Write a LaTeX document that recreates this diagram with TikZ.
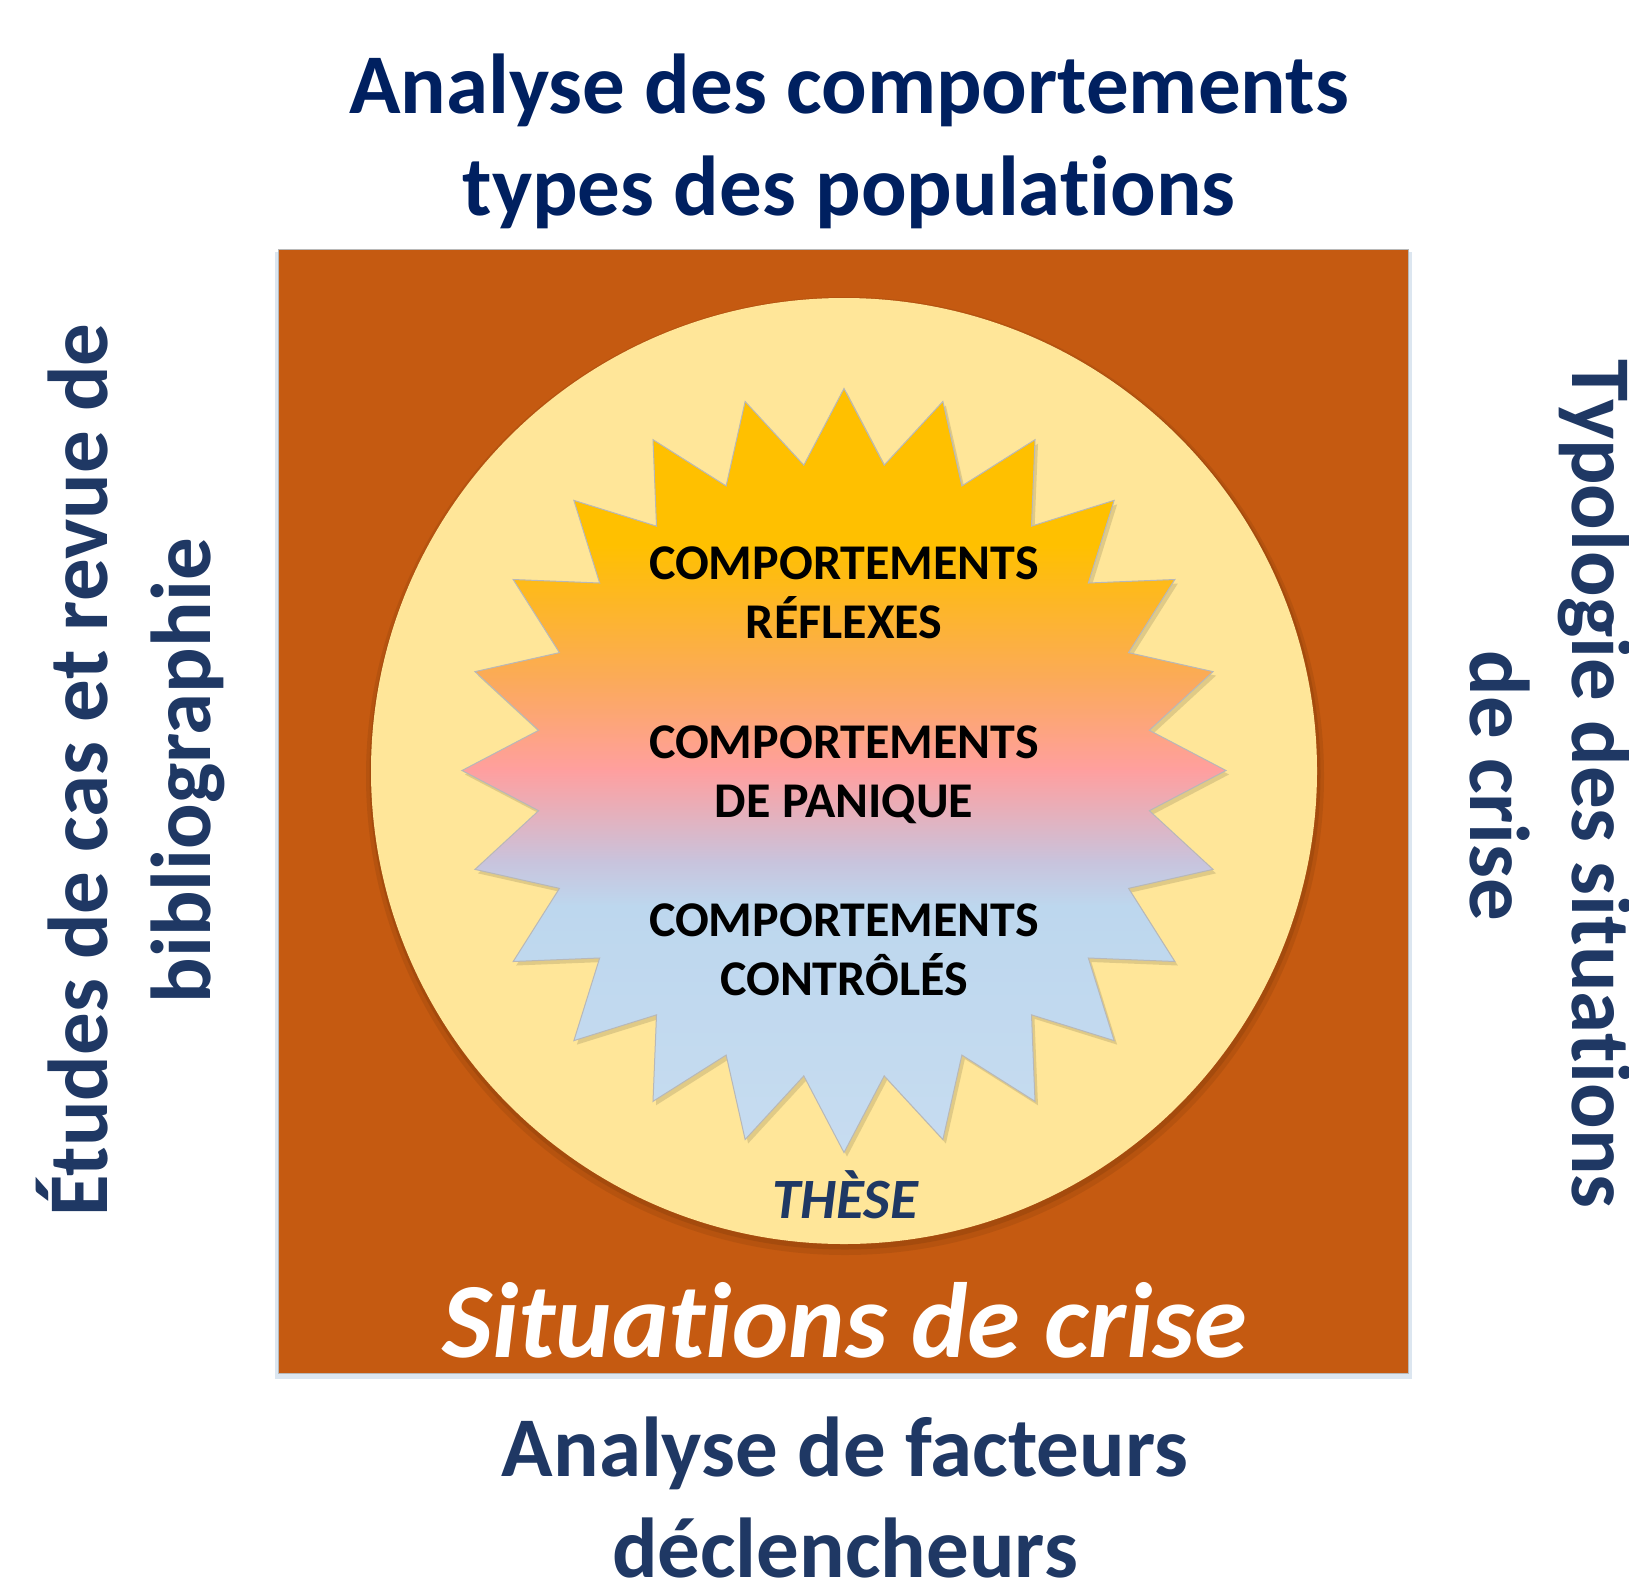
\documentclass[tikz,border=0pt]{standalone}
\usepackage{fontspec}
\setmainfont{Carlito}[Ligatures={NoCommon,NoContextual}]
\definecolor{navy}{HTML}{002060}
\definecolor{slate}{HTML}{1F3864}
\definecolor{rust}{HTML}{C55A11}
\definecolor{sand}{HTML}{FFE699}
\definecolor{gA}{HTML}{FFC000}
\definecolor{gB}{HTML}{FBAA5A}
\definecolor{gC}{HTML}{FF9F9F}
\definecolor{gD}{HTML}{C9C3DC}
\definecolor{gE}{HTML}{BDD7EE}
\definecolor{gF}{HTML}{C7DCF0}
\definecolor{sqshadow}{HTML}{DCE6F0}
\definecolor{edgegray}{HTML}{B8B8B8}
\newcommand\tisep{\kern0pt }
\tikzset{
  bigtxt/.style={font=\fontsize{85}{102}\selectfont\bfseries, inner sep=0pt, anchor=base},
  startxt/.style={font=\fontsize{50}{60}\selectfont\bfseries, text=black, inner sep=0pt, anchor=base},
  starpath/.style={insert path={(844,388.5) \foreach \k in {0,...,23}{ -- ({844+382*sin(15*\k)},{770.5-382*cos(15*\k)}) -- ({844+308*sin(15*\k+7.5)},{770.5-308*cos(15*\k+7.5)}) } -- cycle}}
}
\begin{document}
\begin{tikzpicture}[x=1pt,y=-1pt]
\fill[white] (0,0) rectangle (1629,1579);
\useasboundingbox (0,0) rectangle (1629,1579);

% square
\fill[sqshadow] (275,252) rectangle (1412,1379);
\fill[rust, draw=edgegray, line width=0.8pt] (278.5,249) rectangle (1408.5,1373);

% circle with soft shadow
\fill[black!60!rust, opacity=.12] (845,776) circle (479);
\fill[black!60!rust, opacity=.16] (845,774) circle (475.5);
\fill[sand] (844,771) circle (473);

% star shadow
\begin{scope}[shift={(3,4)}]
\fill[black!30!sand, opacity=.4] [starpath];
\end{scope}
% star gradient
\begin{scope}
\clip [starpath];
\fill[gA] (400,380) rectangle (1290,546);
\shade[top color=gA, bottom color=gB] (400,545) rectangle (1290,681);
\shade[top color=gB, bottom color=gC] (400,680) rectangle (1290,771);
\shade[top color=gC, bottom color=gD] (400,770) rectangle (1290,861);
\shade[top color=gD, bottom color=gE] (400,860) rectangle (1290,906);
\shade[top color=gE, bottom color=gF] (400,905) rectangle (1290,1160);
\end{scope}
\draw[edgegray, line width=1pt, line join=miter] [starpath];

% star texts
\node[startxt] (r1) at (844,579) {COMPORTEMENTS};
\node[startxt] (r2) at (844,638) {RÉFLEXES};
\node[startxt] (p1) at (844,758) {COMPORTEMENTS};
\node[startxt] (p2) at (844,817) {DE PANIQUE};
\node[startxt] (c1) at (844,936) {COMPORTEMENTS};
\node[startxt] (c2) at (844,995) {CONTRÔLÉS};

\node[font=\fontsize{57}{68}\selectfont\bfseries\itshape, text=slate, inner sep=0pt, anchor=base] (these) at (845,1218) {THÈSE};
\node[font=\fontsize{107}{128}\selectfont\bfseries\itshape, text=white, inner sep=0pt, anchor=base] (crise) at (845,1357) {Situat\tisep ions de crise};

% title
\node[bigtxt, text=navy] (t1) at (849,113) {Analyse des comportements};
\node[bigtxt, text=navy] (t2) at (849,215) {types des populat\tisep ions};

% bottom
\node[bigtxt, text=slate] (b1) at (845,1476) {Analyse de facteurs};
\node[bigtxt, text=slate] (b2) at (845,1577) {déclencheurs};

% left
\node[bigtxt, text=slate, rotate=90] (l1) at (107,770) {Études de cas et revue de};
\node[bigtxt, text=slate, rotate=90] (l2) at (210,771) {bibliographie};

% right
\node[bigtxt, text=slate, rotate=-90] (rt1) at (1572,784) {Typologie des situat\tisep ions};
\node[bigtxt, text=slate, rotate=-90] (rt2) at (1470,786) {de crise};
\end{tikzpicture}
\end{document}
